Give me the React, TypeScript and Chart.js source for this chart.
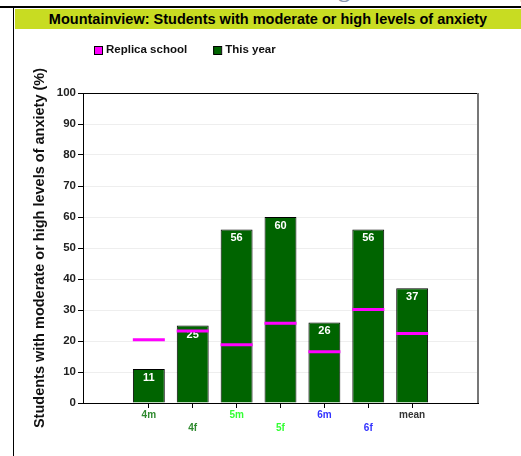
import React, { useEffect, useRef } from "react";
import { Chart, registerables } from "chart.js";

Chart.register(...registerables);

const chartTitle = "Mountainview: Students with moderate or high levels of anxiety";
const yAxisTitle = "Students with moderate or high levels of anxiety (%)";
const groups = ["4m", "4f", "5m", "5f", "6m", "6f", "mean"];
const thisYear = [11, 25, 56, 60, 26, 56, 37];
const replicaSchool = [20.4, 23.2, 18.8, 25.7, 16.5, 30.2, 22.4];
const groupColors = ["#2f8a2f", "#2f8a2f", "#33ff33", "#33ff33", "#3333ff", "#3333ff", "#333333"];
const seriesNames = ["Replica school", "This year"];
const seriesColors = ["#ff00ff", "#006400"];
const yMin = 0;
const yMax = 100;
const yStep = 10;

const FONT = "'Liberation Sans', Arial, Helvetica, sans-serif";

export default function App() {
  const ref = useRef<HTMLCanvasElement | null>(null);

  useEffect(() => {
    const canvas = ref.current;
    if (!canvas) return;
    Chart.defaults.font.family = FONT;

    // pad with empty slots at both ends
    const labels: any[] = [""];
    groups.forEach((g, i) => labels.push(i % 2 === 0 ? [g] : ["", g]));
    labels.push("");
    const barData: (number | null)[] = [null, ...thisYear, null];
    const lineData: (number | null)[] = [null, ...replicaSchool, null];
    const tickColors = ["#000", ...groupColors, "#000"];

    const valueLabels = {
      id: "valueLabels",
      afterDatasetDraw(chart: any, args: any) {
        if (args.meta.type !== "bar") return;
        const ctx = chart.ctx;
        ctx.save();
        ctx.fillStyle = "#ffffff";
        ctx.font = `bold 11px ${FONT}`;
        ctx.textAlign = "center";
        ctx.textBaseline = "middle";
        args.meta.data.forEach((el: any, i: number) => {
          const v = barData[i];
          if (v == null) return;
          ctx.fillText(String(Math.round(v)), el.x, el.y + 9);
        });
        ctx.restore();
      },
    };

    const frame = {
      id: "frame",
      afterDraw(chart: any) {
        const { ctx, chartArea } = chart;
        ctx.save();
        ctx.strokeStyle = "#000";
        ctx.lineWidth = 1;
        ctx.beginPath();
        ctx.moveTo(chartArea.left, Math.round(chartArea.top) + 0.5);
        ctx.lineTo(chartArea.right, Math.round(chartArea.top) + 0.5);
        ctx.stroke();
        ctx.strokeStyle = "#777";
        ctx.lineWidth = 2;
        ctx.beginPath();
        ctx.moveTo(chartArea.right, chartArea.top);
        ctx.lineTo(chartArea.right, chartArea.bottom);
        ctx.stroke();

        // legend
        ctx.font = `bold 11.5px ${FONT}`;
        ctx.textBaseline = "middle";
        ctx.textAlign = "left";
        let x = 80;
        const y = 20;
        seriesNames.forEach((name, i) => {
          ctx.fillStyle = seriesColors[i];
          ctx.fillRect(x, y - 4, 8, 8);
          ctx.strokeStyle = "#000";
          ctx.lineWidth = 1;
          ctx.strokeRect(x + 0.5, y - 3.5, 8, 8);
          ctx.fillStyle = "#111";
          ctx.fillText(name, x + 12, y);
          x += 12 + ctx.measureText(name).width + 26;
        });
        ctx.restore();
      },
    };

    const chart = new Chart(canvas, {
      type: "bar",
      data: {
        labels,
        datasets: [
          {
            type: "line",
            label: seriesNames[0],
            data: lineData,
            showLine: false,
            pointStyle: "line",
            pointRadius: 16,
            pointHoverRadius: 16,
            pointBorderWidth: 3,
            pointHoverBorderWidth: 3,
            pointBorderColor: seriesColors[0],
            borderColor: seriesColors[0],
            backgroundColor: seriesColors[0],
            order: 0,
          } as any,
          {
            type: "bar",
            label: seriesNames[1],
            data: barData,
            backgroundColor: seriesColors[1],
            borderColor: "#000",
            borderWidth: 1,
            barPercentage: 0.727,
            categoryPercentage: 1,
            order: 1,
          } as any,
        ],
      },
      options: {
        responsive: false,
        animation: false,
        events: [],
        layout: { padding: { top: 63, right: 43, left: 0, bottom: 0 } },
        plugins: {
          legend: { display: false },
          tooltip: { enabled: false },
        },
        scales: {
          x: {
            offset: true,
            afterFit(scale: any) {
              scale.height = 53;
            },
            grid: {
              offset: false,
              drawOnChartArea: false,
              drawTicks: true,
              tickLength: 5,
              tickColor: (c: any) => (c.index === 0 || c.index === labels.length - 1 ? "rgba(0,0,0,0)" : "#000"),
            },
            border: { color: "#000", width: 1 },
            ticks: {
              autoSkip: false,
              maxRotation: 0,
              padding: 1,
              font: { size: 10, weight: "bold", lineHeight: 1.3 },
              color: (c: any) => tickColors[c.index] || "#000",
            },
          },
          y: {
            min: yMin,
            max: yMax,
            afterFit(scale: any) {
              scale.width = 69;
            },
            grid: {
              color: "#eeeeee",
              tickColor: "#000",
              tickLength: 5,
            },
            border: { color: "#000", width: 1 },
            ticks: {
              stepSize: yStep,
              padding: 2,
              font: { size: 11.5, weight: "bold" },
              color: "#222",
            },
            title: {
              display: true,
              text: yAxisTitle,
              font: { size: 14.5, weight: "bold" },
              color: "#111",
              padding: { top: 17, bottom: 0 },
            },
          },
        },
      },
      plugins: [valueLabels, frame],
    } as any);

    return () => chart.destroy();
  }, []);

  return (
    <div
      style={{
        position: "fixed",
        left: 0,
        top: 0,
        width: 521,
        height: 456,
        background: "#ffffff",
        overflow: "hidden",
        fontFamily: FONT,
      }}
    >
      <div style={{ position: "absolute", left: 0, top: 0, width: 521, height: 5, overflow: "hidden" }}>
        <div
          style={{
            position: "absolute",
            left: 40,
            top: -24,
            whiteSpace: "nowrap",
            fontFamily: "'Liberation Serif', serif",
            fontWeight: "bold",
            fontSize: 24,
            color: "#8a96ae",
          }}
        >
          Students with moderate or high levels of anxiety
        </div>
      </div>
      <div style={{ position: "absolute", left: 0, top: 6, width: 521, height: 2, background: "#000" }} />
      <div style={{ position: "absolute", left: 13, top: 7, width: 1, height: 449, background: "#000" }} />
      <div
        style={{
          position: "absolute",
          left: 15,
          top: 9,
          width: 506,
          height: 20,
          background: "#c8dc22",
          textAlign: "center",
          lineHeight: "20px",
          fontWeight: "bold",
          fontSize: 14.5,
          color: "#000",
          whiteSpace: "nowrap",
        }}
      >
        {chartTitle}
      </div>
      <canvas
        ref={ref}
        width={507}
        height={426}
        style={{ position: "absolute", left: 14, top: 30, width: 507, height: 426 }}
      />
    </div>
  );
}
